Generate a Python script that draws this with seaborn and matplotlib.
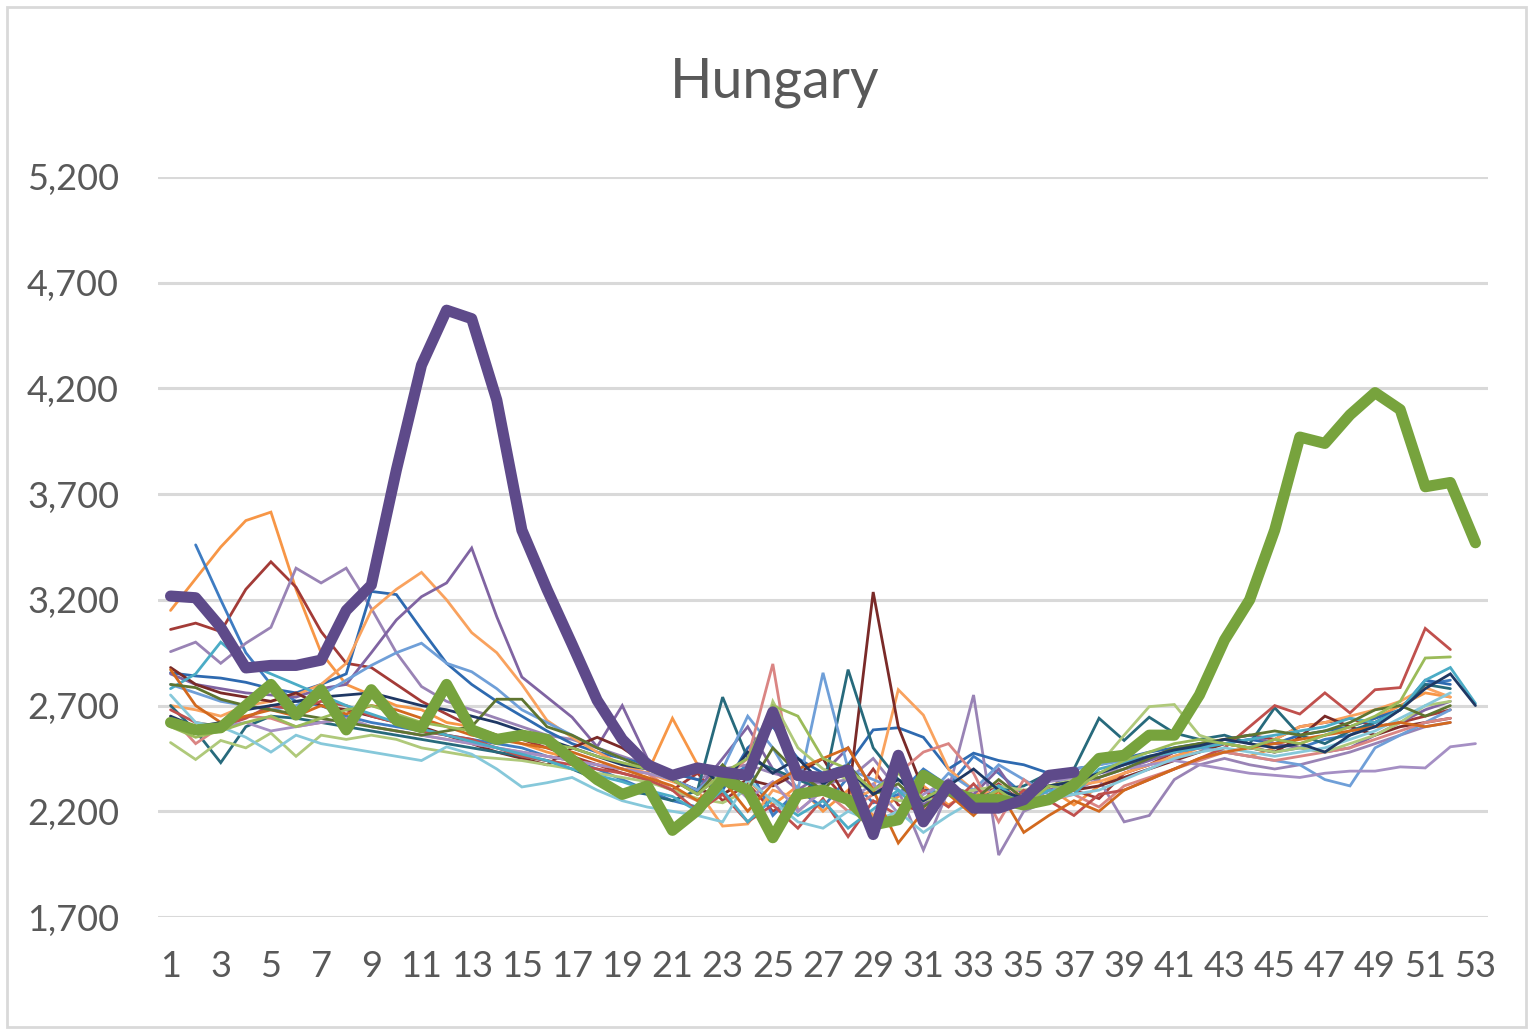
import matplotlib
matplotlib.use("Agg")
import matplotlib.pyplot as plt
import matplotlib.patches as patches
import seaborn as sns
import pandas as pd

# weekly deaths, Hungary; thin lines are earlier years, thick lines 2020 and 2021
weeks = list(range(1, 54))

y2000 = [3150, 3300, 3450, 3575, 3615, 3250, 2950, 2800, 2750, 2700,
         2680, 2620, 2600, 2560, 2520, 2480, 2450, 2420, 2400, 2380,
         2640, 2420, 2280, 2350, 2230, 2320, 2200, 2300, 2180, 2270,
         2320, 2230, 2300, 2200, 2260, 2310, 2230, 2320, 2380, 2420,
         2460, 2500, 2480, 2460, 2500, 2520, 2560, 2600, 2640, 2700, 2760, 2740]
y2001 = [3060, 3090, 3050, 3250, 3380, 3260, 3050, 2900, 2880, 2800,
         2720, 2660, 2600, 2560, 2540, 2500, 2460, 2420, 2380, 2350,
         2300, 2380, 2250, 2330, 2200, 2260, 2380, 2240, 2400, 2230,
         2200, 2300, 2250, 2330, 2240, 2360, 2300, 2260, 2380, 2420,
         2480, 2520, 2540, 2560, 2540, 2600, 2620, 2640, 2600, 2620, 2650, 2680]
y2002 = [None, 3460, 3200, 2950, 2800, 2720, 2700, 2650, 2620, 2600,
         2580, 2560, 2540, 2520, 2500, 2460, 2440, 2400, 2350, 2300,
         2250, 2220, 2330, 2420, 2180, 2300, 2220, 2360, 2240, 2280,
         2400, 2320, 2460, 2380, 2280, 2350, 2340, 2380, 2420, 2450,
         2480, 2500, 2520, 2500, 2480, 2500, 2540, 2560, 2620, 2680, 2800, 2820]
y2003 = [2955, 3000, 2900, 2995, 3070, 3350, 3280, 3350, 3160, 2950,
         2790, 2720, 2680, 2640, 2600, 2560, 2540, 2500, 2460, 2420,
         2380, 2350, 2400, 2420, 2380, 2350, 2330, 2350, 2450, 2300,
         2017, 2300, 2750, 1993, 2200, 2250, 2300, 2350, 2150, 2180,
         2350, 2420, 2450, 2420, 2400, 2420, 2450, 2480, 2520, 2560, 2600, 2620]
y2004 = [2855, 2840, 2830, 2810, 2780, 2760, 2800, 2850, 3240, 3225,
         3060, 2900, 2800, 2720, 2650, 2580, 2520, 2480, 2450, 2420,
         2380, 2350, 2300, 2500, 2600, 2450, 2380, 2420, 2585, 2595,
         2550, 2400, 2475, 2440, 2420, 2380, 2400, 2420, 2450, 2480,
         2500, 2520, 2520, 2540, 2520, 2560, 2580, 2600, 2640, 2680, 2820, 2800]
y2005 = [2700, 2680, 2650, 2700, 2720, 2750, 2800, 2900, 3150, 3250,
         3330, 3200, 3045, 2950, 2800, 2630, 2550, 2480, 2420, 2380,
         2340, 2300, 2130, 2140, 2300, 2260, 2280, 2250, 2300, 2775,
         2655, 2400, 2300, 2280, 2250, 2300, 2320, 2340, 2380, 2420,
         2460, 2480, 2520, 2500, 2540, 2600, 2620, 2650, 2680, 2720, 2785, 2740]
y2006 = [2850, 2800, 2780, 2760, 2750, 2740, 2780, 2800, 2950, 3105,
         3215, 3280, 3445, 3120, 2835, 2740, 2645, 2505, 2700, 2450,
         2350, 2300, 2450, 2600, 2400, 2300, 2380, 2500, 2300, 2400,
         2230, 2320, 2280, 2400, 2230, 2300, 2330, 2360, 2400, 2440,
         2480, 2500, 2540, 2560, 2520, 2500, 2480, 2500, 2560, 2620, 2680, 2720]
y2007 = [2880, 2800, 2760, 2740, 2720, 2760, 2700, 2680, 2650, 2620,
         2600, 2560, 2520, 2480, 2450, 2420, 2500, 2550, 2500, 2420,
         2350, 2300, 2280, 2350, 2320, 2380, 2450, 2250, 3237, 2600,
         2300, 2280, 2260, 2250, 2240, 2260, 2300, 2320, 2360, 2400,
         2440, 2480, 2520, 2500, 2480, 2550, 2650, 2600, 2560, 2600, 2620, 2640]
y2008 = [2700, 2580, 2430, 2600, 2650, 2640, 2620, 2600, 2580, 2560,
         2540, 2520, 2500, 2480, 2460, 2440, 2400, 2350, 2300, 2280,
         2250, 2300, 2740, 2450, 2400, 2350, 2300, 2870, 2500, 2350,
         2300, 2280, 2250, 2300, 2320, 2380, 2400, 2640, 2535, 2645,
         2570, 2540, 2560, 2520, 2690, 2560, 2520, 2580, 2620, 2680, 2800, 2780]
y2009 = [2800, 2760, 2720, 2700, 2680, 2700, 2750, 2820, 2890, 2950,
         2995, 2900, 2860, 2780, 2680, 2620, 2560, 2500, 2450, 2400,
         2350, 2300, 2400, 2650, 2500, 2300, 2855, 2400, 2350, 2300,
         2250, 2380, 2300, 2420, 2350, 2280, 2400, 2420, 2440, 2460,
         2480, 2500, 2480, 2460, 2440, 2420, 2350, 2320, 2500, 2560, 2620, 2680]
y2010 = [2650, 2520, 2600, 2650, 2640, 2600, 2620, 2640, 2600, 2580,
         2560, 2540, 2520, 2500, 2480, 2460, 2440, 2420, 2400, 2380,
         2300, 2250, 2350, 2450, 2897, 2200, 2300, 2200, 2280, 2380,
         2480, 2520, 2380, 2150, 2350, 2250, 2280, 2220, 2320, 2360,
         2400, 2440, 2480, 2460, 2440, 2460, 2480, 2500, 2540, 2580, 2620, 2640]
y2011 = [2525, 2445, 2535, 2500, 2570, 2460, 2560, 2540, 2560, 2540,
         2500, 2480, 2460, 2450, 2440, 2420, 2400, 2380, 2360, 2340,
         2300, 2260, 2240, 2300, 2720, 2500, 2400, 2350, 2300, 2250,
         2250, 2280, 2300, 2320, 2300, 2320, 2350, 2420, 2560, 2695,
         2705, 2560, 2520, 2500, 2480, 2500, 2480, 2520, 2560, 2620, 2700, 2720]
y2012 = [2680, 2620, 2600, 2640, 2700, 2680, 2720, 2700, 2650, 2620,
         2580, 2560, 2540, 2500, 2460, 2440, 2420, 2400, 2380, 2350,
         2300, 2200, 2280, 2150, 2230, 2120, 2260, 2080, 2250, 2180,
         2300, 2220, 2330, 2200, 2300, 2250, 2180, 2280, 2300, 2350,
         2400, 2450, 2500, 2600, 2700, 2660, 2760, 2665, 2775, 2785, 3065, 2965]
y2013 = [2620, 2580, 2600, 2620, 2580, 2600, 2620, 2640, 2600, 2580,
         2560, 2540, 2520, 2500, 2480, 2460, 2440, 2420, 2400, 2380,
         2350, 2280, 2380, 2260, 2340, 2200, 2300, 2250, 2330, 2190,
         2280, 2350, 2240, 2300, 2230, 2340, 2360, 2380, 2400, 2420,
         2440, 2420, 2400, 2380, 2370, 2360, 2380, 2390, 2390, 2410, 2405, 2505, 2520]
y2014 = [2780, 2850, 3000, 2900, 2850, 2800, 2750, 2700, 2660, 2620,
         2590, 2560, 2530, 2500, 2470, 2440, 2400, 2370, 2340, 2300,
         2270, 2200, 2300, 2150, 2260, 2180, 2250, 2120, 2210, 2300,
         2180, 2280, 2200, 2320, 2240, 2300, 2280, 2400, 2430, 2460,
         2480, 2500, 2520, 2540, 2560, 2580, 2600, 2640, 2620, 2680, 2820, 2880, 2710]
y2015 = [2750, 2620, 2600, 2550, 2480, 2560, 2520, 2500, 2480, 2460,
         2440, 2505, 2470, 2400, 2315, 2335, 2360, 2300, 2250, 2220,
         2200, 2180, 2150, 2350, 2250, 2150, 2120, 2200, 2150, 2200,
         2100, 2180, 2250, 2200, 2240, 2260, 2280, 2300, 2350, 2400,
         2450, 2480, 2500, 2480, 2460, 2480, 2500, 2540, 2580, 2640, 2700, 2760]
y2016 = [2870, 2700, 2620, 2650, 2680, 2650, 2700, 2660, 2700, 2680,
         2640, 2600, 2560, 2540, 2520, 2500, 2480, 2440, 2400, 2360,
         2320, 2250, 2350, 2200, 2330, 2400, 2450, 2500, 2300, 2050,
         2200, 2280, 2180, 2300, 2100, 2180, 2250, 2200, 2300, 2350,
         2400, 2450, 2480, 2500, 2520, 2540, 2560, 2580, 2600, 2620, 2600, 2620]
y2017 = [2800, 2785, 2730, 2700, 2680, 2660, 2640, 2620, 2600, 2580,
         2560, 2580, 2600, 2730, 2730, 2600, 2560, 2500, 2450, 2400,
         2350, 2280, 2420, 2300, 2500, 2380, 2300, 2420, 2280, 2330,
         2220, 2300, 2250, 2350, 2260, 2320, 2340, 2360, 2400, 2450,
         2500, 2520, 2540, 2560, 2580, 2560, 2580, 2620, 2680, 2700, 2650, 2700]
y2018 = [2650, 2600, 2620, 2680, 2700, 2720, 2740, 2750, 2760, 2730,
         2700, 2680, 2650, 2620, 2580, 2540, 2500, 2460, 2420, 2400,
         2370, 2420, 2320, 2480, 2380, 2450, 2330, 2400, 2280, 2350,
         2250, 2320, 2400, 2300, 2260, 2320, 2340, 2380, 2420, 2460,
         2490, 2510, 2540, 2520, 2500, 2520, 2480, 2560, 2600, 2680, 2780, 2850, 2700]
y2019 = [2600, 2550, 2580, 2620, 2650, 2600, 2640, 2680, 2700, 2660,
         2620, 2600, 2580, 2560, 2540, 2520, 2500, 2460, 2430, 2400,
         2350, 2280, 2380, 2450, 2700, 2650, 2450, 2400, 2300, 2380,
         2260, 2320, 2240, 2300, 2220, 2320, 2300, 2380, 2440, 2480,
         2520, 2540, 2520, 2500, 2540, 2520, 2560, 2600, 2650, 2720, 2925, 2930]

y2020 = [2620, 2585, 2595, 2700, 2800, 2655, 2775, 2585, 2775, 2630,
         2595, 2800, 2585, 2540, 2560, 2540, 2445, 2350, 2280, 2320,
         2110, 2205, 2350, 2300, 2075, 2280, 2300, 2255, 2135, 2160,
         2370, 2300, 2255, 2255, 2230, 2255, 2325, 2450, 2465, 2560,
         2560, 2750, 3010, 3200, 3530, 3970, 3940, 4075, 4180, 4100,
         3735, 3755, 3470]
y2021 = [3218, 3210, 3070, 2878, 2890, 2890, 2915, 3150, 3270, 3815,
         4310, 4570, 4530, 4145, 3530, 3250, 2990, 2725, 2540, 2420,
         2370, 2405, 2385, 2370, 2670, 2370, 2360, 2395, 2090, 2465,
         2150, 2325, 2215, 2215, 2255, 2370, 2385]

thin_years = {
    "2000": y2000, "2001": y2001, "2002": y2002, "2003": y2003, "2004": y2004,
    "2005": y2005, "2006": y2006, "2007": y2007, "2008": y2008, "2009": y2009,
    "2010": y2010, "2011": y2011, "2012": y2012, "2013": y2013, "2014": y2014,
    "2015": y2015, "2016": y2016, "2017": y2017, "2018": y2018, "2019": y2019,
}
thin_colors = ["#F79646", "#A33B37", "#3E7CC2", "#9983B5", "#2E6AB0",
               "#F9A25E", "#8064A2", "#7A2A28", "#276A7C", "#6F9FD8",
               "#DA8583", "#AFC97A", "#C0504D", "#A58FC4", "#4BACC6",
               "#86C8DA", "#D2691E", "#5F7530", "#1F3864", "#9BBB59"]

rows = []
for yr, vals in thin_years.items():
    for w, v in zip(weeks, vals):
        if v is not None:
            rows.append((yr, w, v))
thin = pd.DataFrame(rows, columns=["year", "week", "deaths"])
thick = pd.concat([
    pd.DataFrame({"year": "2020", "week": weeks[:len(y2020)], "deaths": y2020}),
    pd.DataFrame({"year": "2021", "week": weeks[:len(y2021)], "deaths": y2021}),
])

sns.set_style("white")
plt.rcParams["font.family"] = ["Lato", "DejaVu Sans"]
grey = "#595959"

fig = plt.figure(figsize=(15.33, 10.31), dpi=100)
ax = fig.add_axes([158 / 1533, 114 / 1031, 1330 / 1533, 740 / 1031])

for y in range(1700, 5201, 500):
    ax.axhline(y, color="#D9D9D9", lw=2.2, zorder=0)

sns.lineplot(data=thin, x="week", y="deaths", hue="year", palette=thin_colors,
             estimator=None, sort=False, lw=2.0, legend=False, ax=ax,
             solid_joinstyle="miter")
sns.lineplot(data=thick, x="week", y="deaths", hue="year",
             palette=["#77A33D", "#5E4A8A"], estimator=None, sort=False,
             lw=8, legend=False, ax=ax, solid_joinstyle="round",
             solid_capstyle="round")

ax.set_xlim(0.5, 53.5)
ax.set_ylim(1700, 5200)
ax.set_xticks(weeks[::2])
ax.set_xticklabels([str(w) for w in weeks[::2]])
ax.set_yticks(range(1700, 5201, 500))
ax.set_yticklabels([f"{v:,}" for v in range(1700, 5201, 500)])
ax.tick_params(axis="both", length=0, labelsize=26, colors=grey)
ax.tick_params(axis="x", pad=24)
ax.tick_params(axis="y", pad=28)
ax.set_xlabel("")
ax.set_ylabel("")
for s in ax.spines.values():
    s.set_visible(False)

fig.text(775 / 1533, 1 - 82 / 1031, "Hungary", ha="center", va="center",
         fontsize=40, color=grey)
fig.patches.append(patches.Rectangle((7 / 1533, 4 / 1031), 1519 / 1533, 1020 / 1031,
                                     transform=fig.transFigure, fill=False,
                                     edgecolor="#D9D9D9", lw=2))

fig.savefig("out.png", dpi=100)
